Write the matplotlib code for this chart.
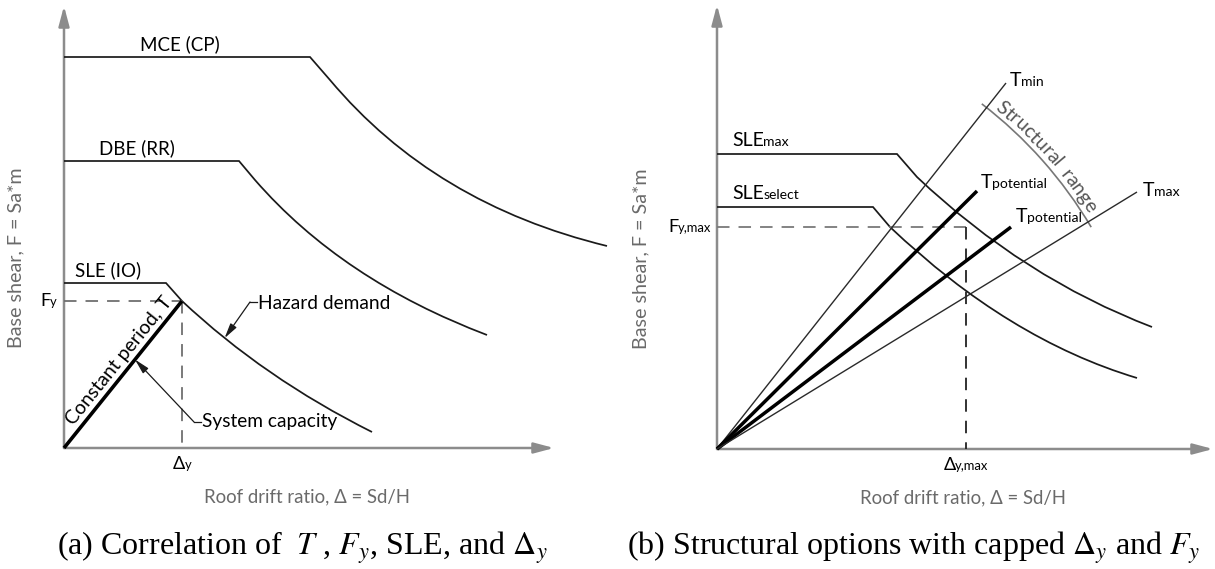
import matplotlib
matplotlib.use("Agg")
import numpy as np
import matplotlib.pyplot as plt
from matplotlib.path import Path
from matplotlib.patches import PathPatch, Arc, FancyArrowPatch
from matplotlib.offsetbox import TextArea, HPacker, AnnotationBbox
from matplotlib.textpath import TextToPath
from matplotlib.font_manager import FontProperties

# ---------------------------------------------------------------- data
# Units: drift and base shear in normalised sketch units.

# (a) hazard demand spectra: plateau level, plateau end, knee, bezier control, end
levels_a = ["MCE (CP)", "DBE (RR)", "SLE (IO)"]
plateau_F_a = [3.91, 2.87, 1.65]
plateau_end_a = [2.46, 1.75, 1.02]
knee_a = [(2.66, 3.68), (1.91, 2.68), (1.18, 1.47)]
ctrl_a = [(3.70, 2.44), (2.78, 1.68), (2.00, 0.70)]
end_a = [(5.43, 2.02), (4.23, 1.13), (3.08, 0.16)]
yield_drift_a = 1.18
yield_force_a = 1.47

# (b) capped serviceability spectra
levels_b = [("SLE", "max"), ("SLE", "select")]
plateau_F_b = [2.95, 2.42]
plateau_end_b = [1.80, 1.56]
knee_b = [(2.00, 2.72), (1.73, 2.22)]
ctrl_b = [(3.065, 1.71), (2.913, 1.096)]
end_b = [(4.35, 1.22), (4.20, 0.71)]
yield_force_b = 2.22
yield_drift_b = 2.49

# (b) constant-period capacity lines (end points of each ray from origin)
period_names = [("T", "min"), ("T", "potential"), ("T", "potential"), ("T", "max")]
period_end = [(2.89, 3.66), (2.60, 2.58), (2.94, 2.22), (4.20, 2.57)]
period_bold = [False, True, True, False]
range_radius = 4.35

# ---------------------------------------------------------------- style
W, H = 1215, 569
PX = 100.0
FONT = ["Lato", "DejaVu Sans"]
AXIS_GREY = "#8c8c8c"
LABEL_GREY = "#6a6a6a"
INK = "#1a1a1a"
plt.rcParams["lines.scale_dashes"] = False
plt.rcParams["mathtext.fontset"] = "stix"

fig = plt.figure(figsize=(W / 100, H / 100), dpi=100)


def panel(x0, x1, ox, oy):
    ax = fig.add_axes([x0 / W, 0, (x1 - x0) / W, 1])
    ax.set_xlim((x0 - ox) / PX, (x1 - ox) / PX)
    ax.set_ylim(-(H - oy) / PX, oy / PX)
    ax.axis("off")
    return ax


def axes_arrows(ax, xmax, ymax):
    for end in [(xmax, 0), (0, ymax)]:
        ax.add_patch(FancyArrowPatch((0, 0), end, arrowstyle="-|>,head_length=12,head_width=3.2",
                                     mutation_scale=1, lw=1.8, color=AXIS_GREY,
                                     shrinkA=0, shrinkB=0))


def hazard(ax, F0, d0, knee, ctrl, end, lw=1.25):
    verts = [(0, F0), (d0, F0), knee, ctrl, end]
    codes = [Path.MOVETO, Path.LINETO, Path.LINETO, Path.CURVE3, Path.CURVE3]
    ax.add_patch(PathPatch(Path(verts, codes), fill=False, lw=lw, color=INK,
                           capstyle="butt", joinstyle="miter"))


def sub_label(ax, xy, main, sub, size, align=(0, 0.5), color="black", sub_scale=0.72):
    a = TextArea(main, textprops=dict(size=size, family=FONT, color=color))
    b = TextArea(sub, textprops=dict(size=size * sub_scale, family=FONT, color=color))
    box = HPacker(children=[a, b], align="baseline", pad=0, sep=-0.5)
    ab = AnnotationBbox(box, xy, xycoords="data", box_alignment=align,
                        frameon=False, pad=0, annotation_clip=False)
    ax.add_artist(ab)


def dashed(ax, xs, ys, color):
    ln, = ax.plot(xs, ys, color=color, lw=1.3)
    ln.set_dashes([9, 6.5])


def curved_text(ax, s, radius, theta_mid, size, color):
    fp = FontProperties(family=FONT, size=size)
    t2p = TextToPath()
    widths = []
    for ch in s:
        w, h, d = t2p.get_text_width_height_descent(ch if ch != " " else "n", fp, ismath=False)
        widths.append((w * 100 / 72 * 0.8 if ch == " " else w * 100 / 72) / PX)
    total = sum(widths)
    theta = np.radians(theta_mid) + total / 2 / radius
    for ch, w in zip(s, widths):
        th = theta - w / 2 / radius
        ax.text(radius * np.cos(th), radius * np.sin(th), ch, fontsize=size, family=FONT,
                color=color, rotation=np.degrees(th) - 90, rotation_mode="anchor",
                ha="center", va="baseline")
        theta -= w / radius


# ---------------------------------------------------------------- panel (a)
ax = panel(0, 610, 64, 448)
axes_arrows(ax, 4.90, 4.42)

for name, F0, d0, kn, cp, en, lx, ly in zip(levels_a, plateau_F_a, plateau_end_a, knee_a,
                                              ctrl_a, end_a, [1.16, 0.73, 0.445],
                                              [4.04, 3.00, 1.78]):
    hazard(ax, F0, d0, kn, cp, en)
    ax.text(lx, ly, name, ha="center", va="center", fontsize=13.5, family=FONT)

dashed(ax, [0, yield_drift_a], [yield_force_a, yield_force_a], "#6f6f6f")
dashed(ax, [yield_drift_a, yield_drift_a], [yield_force_a, 0], "#6f6f6f")
ax.plot([0, yield_drift_a], [0, yield_force_a], color="black", lw=2.6, solid_capstyle="butt")

ang = np.degrees(np.arctan2(yield_force_a, yield_drift_a))
u = np.array([yield_drift_a, yield_force_a]) / np.hypot(yield_drift_a, yield_force_a)
nrm = np.array([-u[1], u[0]])
p = u * 1.02 + nrm * 0.03
ax.text(p[0], p[1], "Constant period, T", rotation=ang, rotation_mode="anchor",
        ha="center", va="bottom", fontsize=14, family=FONT)

sub_label(ax, (-0.07, yield_force_a), "F", "y", 13, align=(1, 0.5))
sub_label(ax, (yield_drift_a, -0.16), "\u0394", "y", 13, align=(0.5, 0.5))

# leaders
ax.text(1.94, 1.45, "Hazard demand", ha="left", va="center", fontsize=13.8, family=FONT)
ax.plot([1.925, 1.86], [1.46, 1.46], color=INK, lw=0.9)
ax.annotate("", xy=(1.606, 1.099), xytext=(1.86, 1.46), xycoords="data",
            arrowprops=dict(arrowstyle="-|>,head_length=0.9,head_width=0.22", lw=0.9,
                            color=INK, shrinkA=0, shrinkB=0))
tip = u * np.hypot(0.71, 0.71 * yield_force_a / yield_drift_a)
ax.text(1.38, 0.26, "System capacity", ha="left", va="center", fontsize=13.8, family=FONT)
ax.plot([1.365, 1.30], [0.26, 0.26], color=INK, lw=0.9)
ax.annotate("", xy=tuple(tip), xytext=(1.30, 0.26), xycoords="data",
            arrowprops=dict(arrowstyle="-|>,head_length=0.9,head_width=0.22", lw=0.9,
                            color=INK, shrinkA=0, shrinkB=0))

ax.text(2.43, -0.49, "Roof drift ratio, \u0394 = Sd/H", ha="center", va="center",
        fontsize=13.4, family=FONT, color=LABEL_GREY)
ax.text(-0.48, 1.90, "Base shear, F = Sa*m", ha="center", va="center", rotation=90,
        fontsize=14.2, family=FONT, color=LABEL_GREY)

# ---------------------------------------------------------------- panel (b)
bx = panel(610, W, 717, 449)
axes_arrows(bx, 4.96, 4.44)

for (m, s), F0, d0, kn, cp, en, ly in zip(levels_b, plateau_F_b, plateau_end_b, knee_b,
                                           ctrl_b, end_b, [3.09, 2.56]):
    hazard(bx, F0, d0, kn, cp, en)
    sub_label(bx, (0.15, ly), m, s, 14)

dashed(bx, [0, yield_drift_b], [yield_force_b, yield_force_b], "#7a7a7a")
dashed(bx, [yield_drift_b, yield_drift_b], [yield_force_b, 0], "#222222")

label_off = [(0.04, 0.03), (0.04, 0.08), (0.05, 0.10), (0.06, 0.02)]
for (m, s), (ex, ey), bold, (dx, dy) in zip(period_names, period_end, period_bold, label_off):
    bx.plot([0, ex], [0, ey], color="black" if bold else "#2a2a2a", lw=2.5 if bold else 1.0,
            solid_capstyle="butt")
    sub_label(bx, (ex + dx, ey + dy), m, s, 14)

th_min = np.degrees(np.arctan2(period_end[0][1], period_end[0][0]))
th_max = np.degrees(np.arctan2(period_end[3][1], period_end[3][0]))
bx.add_patch(Arc((0, 0), 2 * range_radius, 2 * range_radius, theta1=th_max - 0.8,
                 theta2=th_min + 0.8, color="#777777", lw=1.2))
curved_text(bx, "Structural range", range_radius + 0.04, (th_min + th_max) / 2, 14, "#555555")

sub_label(bx, (-0.06, yield_force_b), "F", "y,max", 13, align=(1, 0.5))
sub_label(bx, (yield_drift_b, -0.16), "\u0394", "y,max", 13, align=(0.5, 0.5))

bx.text(2.46, -0.49, "Roof drift ratio, \u0394 = Sd/H", ha="center", va="center",
        fontsize=13.4, family=FONT, color=LABEL_GREY)
bx.text(-0.76, 1.90, "Base shear, F = Sa*m", ha="center", va="center", rotation=90,
        fontsize=14.2, family=FONT, color=LABEL_GREY)

# ---------------------------------------------------------------- captions
cap = dict(ha="center", va="center", fontsize=23, family="Liberation Serif")
fig.text(302 / W, 1 - 548 / H, r"(a) Correlation of  $T$ , $F_y$, SLE, and $\Delta_y$", **cap)
fig.text(914 / W, 1 - 548 / H, r"(b) Structural options with capped $\Delta_y$ and $F_y$", **cap)

fig.savefig("out.png", dpi=100)
